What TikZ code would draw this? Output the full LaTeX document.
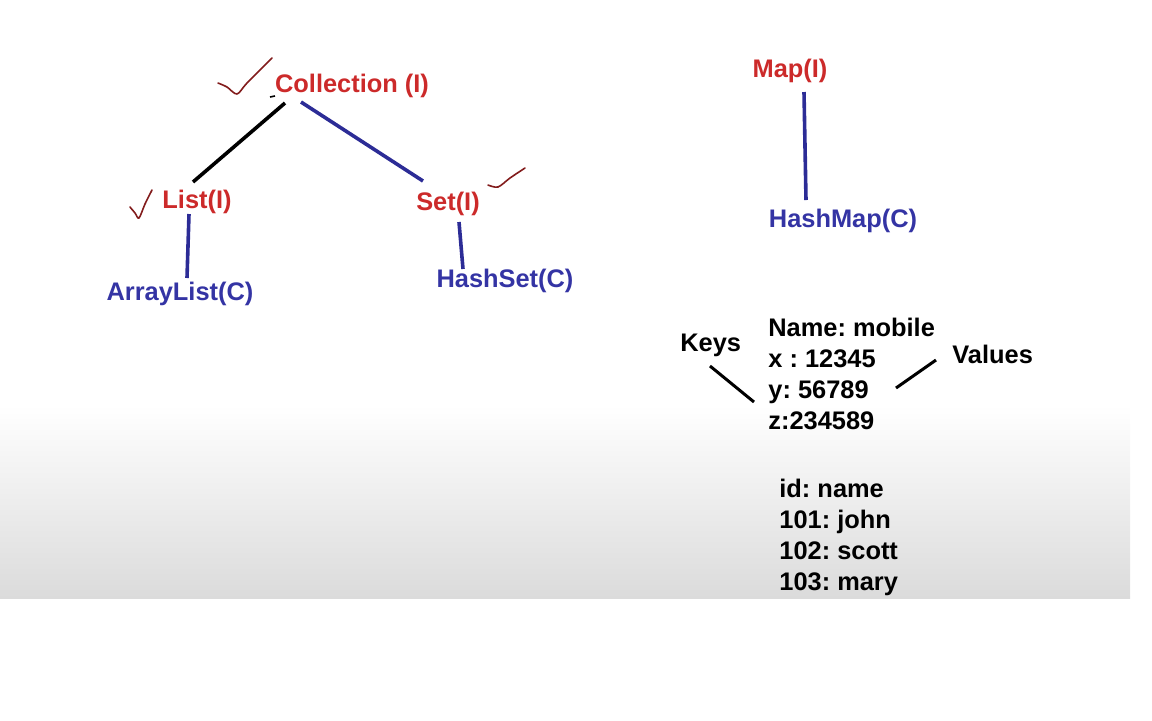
\documentclass[tikz,border=0pt]{standalone}
\usepackage{fontspec}
\setmainfont{Liberation Sans}
\usepackage{xcolor}
\usepackage{tikz}
\usetikzlibrary{positioning,calc}
\definecolor{ifacered}{RGB}{204,42,42}
\definecolor{implblue}{RGB}{52,52,164}
\definecolor{linkblue}{RGB}{44,44,150}
\definecolor{tickred}{RGB}{130,28,28}
\definecolor{shadegray}{RGB}{219,219,219}
\frenchspacing

\begin{document}
\begin{tikzpicture}[
    x=0.5pt, y=-0.5pt,
    label/.style={inner sep=0pt,font=\bfseries\fontsize{12.7}{15.5}\selectfont},
    iface/.style={label,anchor=base,text=ifacered},
    impl/.style={label,anchor=base,text=implblue},
    entry/.style={label,anchor=base west,text=black},
    link/.style={line width=1.8pt,draw=linkblue},
    blacklink/.style={line width=1.8pt,draw=black},
    tick/.style={line width=0.8pt,draw=tickred,line cap=round,line join=round}
]
\useasboundingbox (0,0) rectangle (1152,720);
\fill[top color=white,bottom color=shadegray] (0,405) rectangle (1130,598);

\node[iface] (coll) at (352,92)  {Collection (I)};
\node[iface] (list) at (197,208) {List(I)};
\node[iface] (set)  at (448,210) {Set(I)};
\node[impl]  (alist) at (180,300) {ArrayList(C)};
\node[impl]  (hset)  at (505,287) {HashSet(C)};

\node[iface] (map)  at (790,77)  {Map(I)};
\node[impl]  (hmap) at (843,227) {HashMap(C)};

\node[entry] (keys)   at (680,351) {Keys};
\node[entry] (values) at (952,363) {Values};
\node[entry] (k1) at (768,336) {Name: mobile};
\node[entry] (k2) at (768,367) {x : 12345};
\node[entry] (k3) at (768,398) {y: 56789};
\node[entry] (k4) at (768,429) {z:234589};

\node[entry] (r1) at (779,497) {id: name};
\node[entry] (r2) at (779,528) {101: john};
\node[entry] (r3) at (779,559) {102: scott};
\node[entry] (r4) at (779,590) {103: mary};

\draw[blacklink] ($(coll.base)+(-67,11)$) -- ($(list.base)+(-4,-26)$);
\draw[link] ($(coll.base)+(-51,10)$) -- ($(set.base)+(-25,-29)$);
\draw[link] ($(list.base)+(-8,6)$) -- ($(alist.base)+(7,-22)$);
\draw[link] ($(set.base)+(11,12)$) -- ($(hset.base)+(-42,-18)$);
\draw[link] ($(map.base)+(14,15)$) -- ($(hmap.base)+(-37,-27)$);

\draw[blacklink,line width=1.5pt] ($(keys.base west)+(30,15)$) -- ($(k3.base west)+(-14,4)$);
\draw[blacklink,line width=1.5pt] ($(k3.base west)+(128,-10)$) -- ($(values.base west)+(-16,-3)$);

\draw[tick] plot[smooth] coordinates {(218,83) (227,87) (237,94) (247,83) (272,58)};
\draw[line width=0.8pt] (270,97) -- (275,96);
\draw[tick] plot[smooth] coordinates {(130,207) (135,213) (139,218) (145,204) (152,190)};
\draw[tick] plot[smooth] coordinates {(488,185) (498,187) (510,178) (525,168)};
\end{tikzpicture}
\end{document}
